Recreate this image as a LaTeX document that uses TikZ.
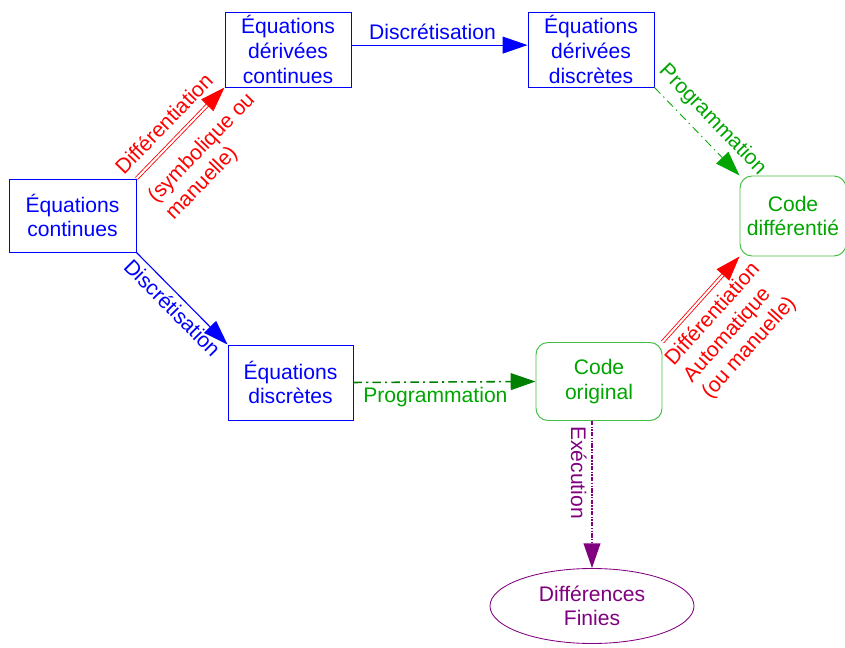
\documentclass[tikz,border=0pt]{standalone}
\usepackage{fontspec}
\setmainfont{Liberation Sans}
\usetikzlibrary{arrows.meta,shapes.geometric}

\definecolor{eqblue}{RGB}{0,0,255}
\definecolor{codegreen}{RGB}{0,165,0}
\definecolor{boxgreen}{RGB}{70,190,70}
\definecolor{darkgreen}{RGB}{0,128,0}
\definecolor{diffred}{RGB}{255,0,0}
\definecolor{execpurple}{RGB}{128,0,128}

\tikzset{
    every node/.style={font=\fontsize{15}{17.5}\selectfont},
    eqbox/.style={draw=eqblue, text=eqblue, line width=0.7pt, align=center,
        minimum width=3.15cm, minimum height=1.875cm, inner sep=1pt},
    codebox/.style={draw=boxgreen, text=codegreen, line width=0.7pt, align=center,
        rounded corners=0.3cm, minimum width=3.15cm, minimum height=1.95cm, inner sep=1pt},
    bigtip/.style={-{Triangle[length=0.62cm, width=0.42cm]}},
    diffarrow/.style={bigtip, draw=diffred, line width=0.6pt, double=white, double distance=1.5pt},
}

\begin{document}
\begin{tikzpicture}

    \useasboundingbox (0, 0) rectangle (21.125, -16.2);

    % boxes
    \node [eqbox, minimum width=3.175cm, minimum height=1.825cm] (cont) at (1.8125, -5.3875) {Équations\\continues};
    \node [eqbox] (dcont) at (7.2, -1.2375) {Équations\\dérivées\\continues};
    \node [eqbox] (ddisc) at (14.775, -1.2375) {Équations\\dérivées\\discrètes};
    \node [eqbox, minimum width=3.125cm] (disc) at (7.2625, -9.5625) {Équations\\discrètes};
    \node [codebox] (corig) at (14.975, -9.5375) {Code\\original};
    \node [codebox, minimum width=2.65cm, minimum height=2cm] (cdiff) at (19.825, -5.4) {Code\\différentié};
    \node [ellipse, draw=execpurple, text=execpurple, line width=0.6pt, align=center,
        minimum width=5.1cm, minimum height=1.875cm, inner sep=0pt] (fin) at (14.8, -15.15) {Différences\\Finies};

    % upper path
    \draw [diffarrow] (cont.north east) -- (dcont.south west)
        node [sloped, above=4pt, pos=0.46, text=diffred] {Différentiation}
        node [sloped, below=8pt, pos=0.53, text=diffred, align=left] {(symbolique ou\\manuelle)};
    \draw [bigtip, eqblue, line width=0.8pt] ([yshift=0.11cm]dcont.east) -- ([yshift=0.11cm]ddisc.west)
        node [above, pos=0.46, text=eqblue] {Discrétisation};
    \draw [bigtip, codegreen, line width=0.6pt, dash pattern=on 6pt off 3pt on 1pt off 3pt]
        (ddisc.south east) -- (cdiff.north west)
        node [sloped, above=3pt, pos=0.52, text=codegreen] {Programmation};

    % lower path
    \draw [bigtip, eqblue, line width=0.8pt] (cont.south east) -- (disc.north west)
        node [sloped, below, pos=0.5, text=eqblue] {Discrétisation};
    \draw [bigtip, darkgreen, line width=1.1pt, dash pattern=on 6pt off 3pt on 1.5pt off 3pt]
        (disc.east) -- (corig.west)
        node [below, pos=0.45, text=codegreen] {Programmation};
    \draw [diffarrow] (corig.north east) -- (cdiff.south west)
        node [sloped, below=3pt, pos=0.47, text=diffred, align=left] {Différentiation\\Automatique\\(ou manuelle)};

    \draw [bigtip, execpurple, line width=1.1pt, dash pattern=on 3pt off 1pt on 1pt off 1pt on 1pt off 1pt]
        (corig.south -| fin.north) -- (fin.north)
        node [sloped, below, pos=0.35, text=execpurple] {Exécution};

\end{tikzpicture}
\end{document}
